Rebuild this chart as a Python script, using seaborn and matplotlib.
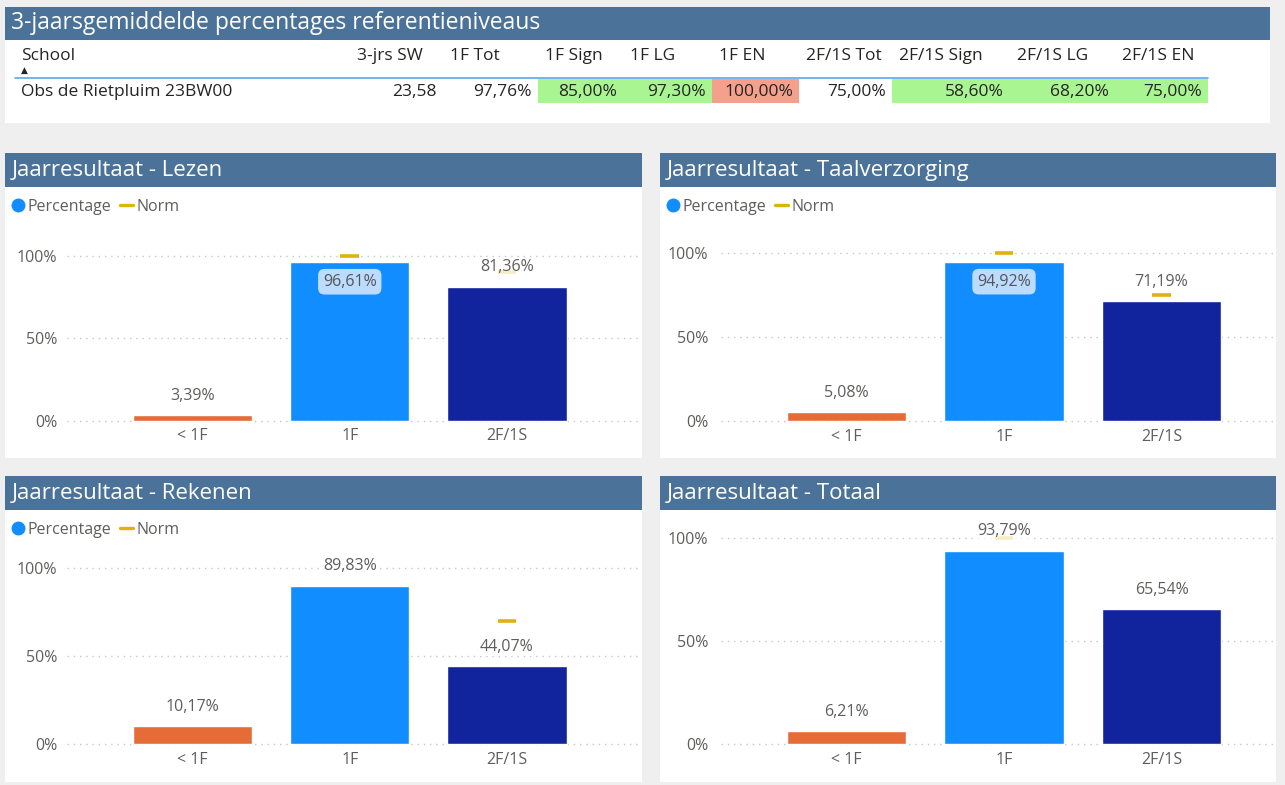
import numpy as np
import seaborn as sns
import matplotlib.pyplot as plt
from matplotlib.patches import Rectangle
from matplotlib.lines import Line2D

# ---- data ----
table_title = "3-jaarsgemiddelde percentages referentieniveaus"
table_columns = ["3-jrs SW", "1F Tot", "1F Sign", "1F LG", "1F EN",
                 "2F/1S Tot", "2F/1S Sign", "2F/1S LG", "2F/1S EN"]
school = "Obs de Rietpluim 23BW00"
table_values = ["23,58", "97,76%", "85,00%", "97,30%", "100,00%",
                "75,00%", "58,60%", "68,20%", "75,00%"]
table_status = ["", "", "ok", "ok", "bad", "", "ok", "ok", "ok"]

categories = ["< 1F", "1F", "2F/1S"]
lezen = [3.39, 96.61, 81.36]
lezen_norm = [np.nan, 100, 90]
taal = [5.08, 94.92, 71.19]
taal_norm = [np.nan, 100, 75]
rekenen = [10.17, 89.83, 44.07]
rekenen_norm = [np.nan, np.nan, 70]
totaal = [6.21, 93.79, 65.54]
totaal_norm = [np.nan, 100, np.nan]

W, H = 1285, 785
BG = "#EFEFEF"
HEAD = "#4B7399"
TXT = "#605E5C"
DARK = "#252423"
BAR_COLORS = ["#E66C37", "#118DFF", "#12239E"]
NORM = "#E0B20F"
FS = 11.5      # chart text
TFS = 12.5     # table text

sns.set_theme(style="white")
plt.rcParams['font.family'] = ['Open Sans', 'DejaVu Sans']


def fx(x):
    return x / W


def fy(y):
    return 1 - y / H


def box(fig, x0, y0, x1, y1, color, z=-3):
    fig.add_artist(Rectangle((fx(x0), fy(y1)), (x1 - x0) / W, (y1 - y0) / H,
                             transform=fig.transFigure, facecolor=color,
                             edgecolor="none", zorder=z))


def fmt(v):
    return f"{v:.2f}".replace(".", ",") + "%"


def draw_panel(fig, title, values, norms, geo, show_legend, inside_big):
    x0, x1, hy = geo["x0"], geo["x1"], geo["hy"]
    # panel + header
    box(fig, x0, hy, x1, hy + geo["h"], "white")
    box(fig, x0, hy, x1, hy + 34, HEAD, z=-2)
    fig.text(fx(x0 + 7), fy(hy + 17.5), title, color="white", fontsize=16,
             va="center", ha="left")

    left, right, y100, y0 = geo["left"], geo["right"], geo["y100"], geo["y0"]
    c0, step = geo["c0"], geo["step"]
    ppu = (y0 - y100) / 100
    pad = 2
    ax = fig.add_axes([fx(left), fy(y0 + pad * ppu), (right - left) / W,
                       (y0 - y100 + 2 * pad * ppu) / H])
    ax.set_facecolor("none")
    sns.barplot(x=categories, y=values, hue=categories, palette=BAR_COLORS,
                width=0.757, saturation=1, legend=False, ax=ax)
    ax.set_xlim(-(c0 - left) / step, (right - c0) / step)
    ax.set_ylim(-pad, 100 + pad)
    ax.set_yticks([0, 50, 100])
    ax.set_yticklabels(["0%", "50%", "100%"])
    ax.yaxis.grid(True, linestyle=(0, (1, 3.5)), color="#C8C6C4", linewidth=1)
    ax.set_axisbelow(True)
    for s in ax.spines.values():
        s.set_visible(False)
    ax.tick_params(axis="y", length=0, pad=geo["ypad"], labelsize=FS,
                   labelcolor=TXT)
    ax.tick_params(axis="x", length=0, pad=3, labelsize=FS, labelcolor=TXT)
    ax.set_xlabel("")
    ax.set_ylabel("")

    xs = np.arange(len(categories))
    ax.hlines(norms, xs - 0.06, xs + 0.06, color=NORM, linewidth=2.6,
              zorder=3, clip_on=False)

    for i, v in enumerate(values):
        if inside_big and v > 90:
            ax.annotate(fmt(v), (i, v), xytext=(0, -14.5),
                        textcoords="offset points", ha="center", va="center",
                        fontsize=FS, color="#555555", zorder=5,
                        bbox=dict(boxstyle="round,pad=0.3,rounding_size=0.4",
                                  facecolor="#BBDCFF", edgecolor="none"))
        else:
            ax.annotate(fmt(v), (i, v), xytext=(0, 14),
                        textcoords="offset points", ha="center", va="center",
                        fontsize=FS, color=TXT, zorder=5, annotation_clip=False,
                        bbox=dict(boxstyle="square,pad=0.05", facecolor="white",
                                  edgecolor="none", alpha=0.75))

    if show_legend:
        handles = [Line2D([], [], marker="o", linestyle="none", color="#118DFF",
                          markersize=9),
                   Line2D([], [], color=NORM, linewidth=2.4)]
        fig.legend(handles, ["Percentage", "Norm"], ncol=2, frameon=False,
                   loc="center left", bbox_to_anchor=(fx(x0 + 6), fy(hy + 54)),
                   fontsize=FS, labelcolor=TXT, handlelength=0.85,
                   handletextpad=0.2, columnspacing=0.5, borderpad=0,
                   borderaxespad=0)
    return ax


def draw_table(fig):
    box(fig, 5, 40, 1270, 123, "white")
    box(fig, 5, 7, 1270, 40, HEAD, z=-2)
    fig.text(fx(11), fy(23), table_title, color="white", fontsize=16.5,
             va="center", ha="left")
    edges = [350, 443, 538, 623, 712, 799, 892, 1010, 1115, 1208]
    fig.text(fx(21), fy(56), "School", color=DARK, fontsize=TFS, va="center")
    fig.text(fx(21), fy(70), "\u25B2", color=DARK, fontsize=6.5,
             va="center", family="DejaVu Sans")
    fig.add_artist(Line2D([fx(15), fx(1208)], [fy(77.5), fy(77.5)],
                          transform=fig.transFigure, color="#5EA6F0",
                          linewidth=1.2))
    fig.text(fx(21), fy(92), school, color=DARK, fontsize=TFS, va="center")
    colors = {"ok": "#A9F592", "bad": "#F4A08D"}
    for i, (col, val, st) in enumerate(zip(table_columns, table_values,
                                           table_status)):
        a, b = edges[i], edges[i + 1]
        if st:
            box(fig, a, 79, b, 103, colors[st], z=-2)
        fig.text(fx(a + 7), fy(56), col, color=DARK, fontsize=TFS, va="center")
        fig.text(fx(b - 6), fy(92), val, color=DARK, fontsize=TFS, va="center",
                 ha="right")


def main():
    fig = plt.figure(figsize=(W / 100, H / 100), dpi=100, facecolor=BG)
    draw_table(fig)
    left_geo = dict(x0=5, x1=642, left=67, right=640, c0=192.5, step=157.25,
                    ypad=7)
    right_geo = dict(x0=660, x1=1276, left=721, right=1276, c0=846.5,
                     step=157.5, ypad=9)
    draw_panel(fig, "Jaarresultaat - Lezen", lezen, lezen_norm,
               dict(left_geo, hy=153, h=305, y100=256, y0=421), True, True)
    draw_panel(fig, "Jaarresultaat - Taalverzorging", taal, taal_norm,
               dict(right_geo, hy=153, h=305, y100=253, y0=421), True, True)
    draw_panel(fig, "Jaarresultaat - Rekenen", rekenen, rekenen_norm,
               dict(left_geo, hy=476, h=306, y100=568, y0=744), True, False)
    draw_panel(fig, "Jaarresultaat - Totaal", totaal, totaal_norm,
               dict(right_geo, hy=476, h=306, y100=538, y0=744), False, False)
    fig.savefig("out.png", dpi=100, facecolor=BG)


if __name__ == '__main__':
    main()
